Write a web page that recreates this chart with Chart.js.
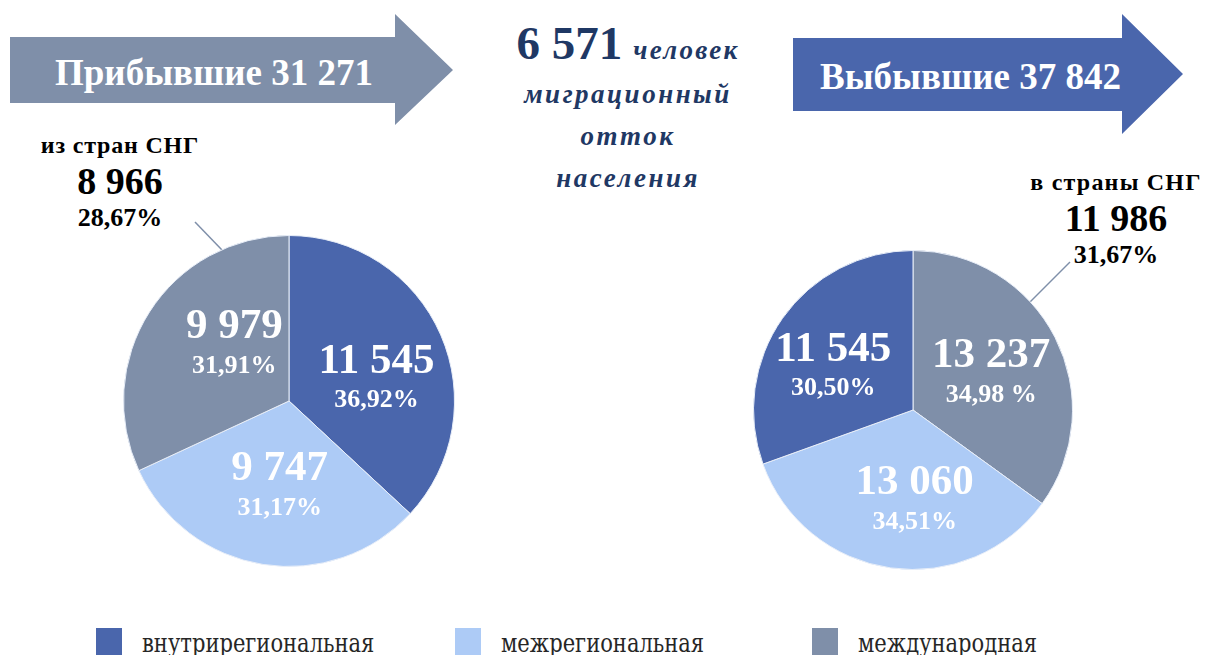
<!DOCTYPE html>
<html lang="ru">
<head>
<meta charset="utf-8">
<title>Миграция населения</title>
<script src="https://cdn.jsdelivr.net/npm/chart.js@4/dist/chart.umd.min.js"></script>
<style>
  html, body { margin: 0; padding: 0; background: #fff; }
  body { width: 1205px; height: 655px; position: relative; overflow: hidden; font-family: "Liberation Serif", serif; }
  .abs { position: absolute; }
  .arrow { position: absolute; color: #fff; font-weight: bold; display: flex; align-items: center; }
  .arrow span { position: relative; white-space: nowrap; }
  #arrowIn { left: 10px; top: 14px; width: 443px; height: 111px; background: #7f8fa9;
    clip-path: polygon(0 23px, 385px 23px, 385px 0, 443px 56px, 385px 111px, 385px 89px, 0 89px); }
  #arrowOut { left: 793px; top: 14px; width: 390px; height: 120px; background: #4a66ac;
    clip-path: polygon(0 24px, 329px 24px, 329px 0, 390px 60px, 329px 120px, 329px 97px, 0 97px); }
  .center { left: 490px; width: 276px; text-align: center; color: #1f3864; font-weight: bold; white-space: nowrap; }
  .it { font-style: italic; letter-spacing: 2.5px; font-size: 27px; }
  .callout { text-align: center; font-weight: bold; color: #000; white-space: nowrap; }
  .chartBox { position: absolute; }
  .legendItem { position: absolute; top: 628px; height: 27px; }
  .legendItem i { position: absolute; left: 0; top: 0; width: 26px; height: 27px; }
  .legendItem span { position: absolute; left: 46px; top: 2px; line-height: 26px; white-space: nowrap;
    font-family: "DejaVu Serif Condensed", "DejaVu Serif", serif; font-stretch: condensed; font-size: 26px; color: #262626;
    transform: scaleX(0.9); transform-origin: left center; }
</style>
</head>
<body>

<div class="arrow" id="arrowIn"><span style="left:45px;top:3px;font-size:37px;">Прибывшие 31 271</span></div>
<div class="arrow" id="arrowOut"><span style="left:27px;top:2px;font-size:37px;">Выбывшие 37 842</span></div>

<div class="abs center" style="top:16px;"><span style="font-size:47px;">6 571</span> <span class="it" style="letter-spacing:2.3px;font-size:27px;margin-left:7px;">человек</span></div>
<div class="abs center it" style="top:79px;">миграционный</div>
<div class="abs center it" style="top:121px;">отток</div>
<div class="abs center it" style="top:163px;">населения</div>

<div class="abs callout" style="left:20px;width:200px;top:131px;">
  <div style="font-size:24px;line-height:28px;letter-spacing:0.8px;">из стран СНГ</div>
  <div style="font-size:38px;line-height:44px;">8 966</div>
  <div style="font-size:26px;line-height:30px;">28,67%</div>
</div>
<div class="abs callout" style="left:1016px;width:200px;top:168px;">
  <div style="font-size:24px;line-height:28px;letter-spacing:1.2px;">в страны СНГ</div>
  <div style="font-size:38px;line-height:44px;">11 986</div>
  <div style="font-size:26px;line-height:30px;">31,67%</div>
</div>

<svg class="abs" style="left:0;top:0;" width="1205" height="655">
  <line x1="195" y1="222" x2="222" y2="250" stroke="#7f8fa9" stroke-width="1.5"/>
  <line x1="1070" y1="262" x2="1030" y2="302" stroke="#7f8fa9" stroke-width="1.5"/>
</svg>

<div class="chartBox" style="left:123px;top:235px;width:332px;height:332px;"><canvas id="pieIn"></canvas></div>
<div class="chartBox" style="left:753px;top:250px;width:320px;height:320px;"><canvas id="pieOut"></canvas></div>

<div id="legend"></div>

<script>
// категории миграции и цвета
const categories = ['внутрирегиональная', 'межрегиональная', 'международная'];
const colors = ['#4a66ac', '#adcbf6', '#7f8fa9'];

// прибывшие (по часовой стрелке от верха)
const inValues = [11545, 9747, 9979];
const inPercents = ['36,92%', '31,17%', '31,91%'];

// выбывшие: международная, межрегиональная, внутрирегиональная
const outOrder = [2, 1, 0];
const outValues = [13237, 13060, 11545];
const outPercents = ['34,98 %', '34,51%', '30,50%'];

function fmt(n) {
    return String(n).replace(/\B(?=(\d{3})+(?!\d))/g, ' ');
}

// подписи внутри секторов: число и процент
const sliceLabels = {
    id: 'sliceLabels',
    afterDatasetsDraw(chart, args, opts) {
        const ctx = chart.ctx;
        const meta = chart.getDatasetMeta(0);
        const values = chart.data.datasets[0].data;
        ctx.save();
        ctx.fillStyle = '#fff';
        ctx.textAlign = 'center';
        ctx.textBaseline = 'middle';
        meta.data.forEach((arc, i) => {
            const p = arc.getProps(['x', 'y', 'startAngle', 'endAngle', 'outerRadius'], true);
            const mid = (p.startAngle + p.endAngle) / 2;
            const r = p.outerRadius * 0.55;
            const shift = opts.shift[i];
            const x = p.x + Math.cos(mid) * r + shift[0];
            const y = p.y + Math.sin(mid) * r + shift[1];
            ctx.font = 'bold 43px "Liberation Serif", serif';
            ctx.fillText(fmt(values[i]), x, y - 18);
            ctx.font = 'bold 26px "Liberation Serif", serif';
            ctx.fillText(opts.percents[i], x, y + 21);
        });
        ctx.restore();
    }
};

function makePie(id, values, bg, percents, shift) {
    return new Chart(document.getElementById(id), {
        type: 'pie',
        data: {
            labels: bg.map((c, i) => i),
            datasets: [{
                data: values,
                backgroundColor: bg,
                borderColor: '#e8eef8',
                borderWidth: 1
            }]
        },
        options: {
            responsive: true,
            maintainAspectRatio: false,
            animation: false,
            layout: { padding: 0 },
            plugins: {
                legend: { display: false },
                tooltip: { enabled: false },
                sliceLabels: { percents: percents, shift: shift }
            }
        },
        plugins: [sliceLabels]
    });
}

makePie('pieIn', inValues, colors, inPercents, [[4, 15], [5, -4], [22, -7]]);
makePie('pieOut', outValues, outOrder.map(k => colors[k]), outPercents, [[0, 4], [14, 4], [-8, 8]]);

// легенда внизу
const legend = document.getElementById('legend');
const legendX = [96, 455, 812];
categories.forEach((name, i) => {
    const item = document.createElement('div');
    item.className = 'legendItem';
    item.style.left = legendX[i] + 'px';
    item.innerHTML = '<i style="background:' + colors[i] + '"></i><span>' + name + '</span>';
    legend.appendChild(item);
});
</script>
</body>
</html>
